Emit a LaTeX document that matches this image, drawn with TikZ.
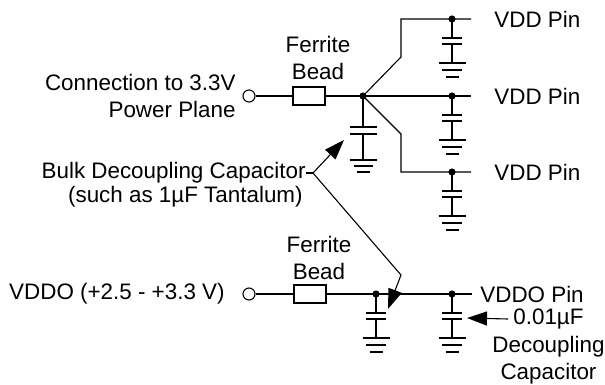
\documentclass[tikz,border=0pt]{standalone}
\usepackage{fontspec}
\setmainfont{Liberation Sans}
\usetikzlibrary{arrows.meta,positioning}

\tikzset{
  wire/.style={draw,line width=0.55pt},
  arr/.style={draw,line width=0.55pt,-{Triangle[length=10pt,width=7pt]}},
  bead/.style={draw,rectangle,line width=0.55pt,minimum width=16pt,minimum height=9pt,inner sep=0pt},
  dot/.style={circle,fill,inner sep=0pt,minimum size=3.6pt},
  term/.style={circle,draw,fill=white,line width=0.55pt,inner sep=0pt,minimum size=6pt},
  lbl/.style={font=\fontsize{11.2}{13.5}\selectfont,inner sep=0pt}
}

\begin{document}
\begin{tikzpicture}[x=0.5pt,y=-0.5pt]
\useasboundingbox (0,0) rectangle (605,385);

% 3.3V branch
\node[term] (in1) at (249,96) {};
\node[bead] (fb1) at (309,96) {};
\node[dot] (j1) at (363,96) {};
\coordinate (up) at (401,57);
\coordinate (upc) at (401,19);
\coordinate (dn) at (401,134);
\coordinate (dnc) at (401,172);
\node[dot] (p1) at (452,19) {};
\node[dot] (p2) at (452,96) {};
\node[dot] (p3) at (452,172) {};
\coordinate (e1) at (471,19);
\coordinate (e2) at (471,96);
\coordinate (e3) at (471,172);

\path[wire] (in1) -- (fb1) -- (j1.center) -- (e2);
\path[wire] (j1.center) -- (up) -- (upc) -- (e1);
\path[wire] (j1.center) -- (dn) -- (dnc) -- (e3);

\node[lbl,anchor=east,align=right] (conn) at (236,96) {Connection to 3.3V\\Power Plane};
\node[lbl,align=center] (fbl1) at (318,58) {Ferrite\\Bead};
\node[lbl,anchor=west] (vdd1) at (494,19) {VDD Pin};
\node[lbl,anchor=west] (vdd2) at (494,96) {VDD Pin};
\node[lbl,anchor=west] (vdd3) at (494,172) {VDD Pin};

% VDDO branch
\node[term] (in2) at (249,294) {};
\node[bead] (fb2) at (310,294) {};
\node[dot] (j2) at (376,294) {};
\node[dot] (p4) at (452,294) {};
\coordinate (e4) at (472,294);

\path[wire] (in2) -- (fb2) -- (j2.center) -- (e4);

\node[lbl,anchor=east] (vddoin) at (225,294) {VDDO (+2.5 - +3.3 V)};
\node[lbl,align=center] (fbl2) at (319,258) {Ferrite\\Bead};
\node[lbl,anchor=west] (vddo) at (480,294) {VDDO Pin};

% capacitors to ground
\foreach \p in {p1,p2,p3,p4,j2}
  \path[wire] (\p.center) -- ++(0,19) ++(-10,0) -- ++(20,0) ++(-20,6) -- ++(20,0)
    ++(-10,0) -- ++(0,19) ++(-13.5,0) -- ++(27,0) ++(-23.5,7) -- ++(20,0)
    ++(-16.5,7) -- ++(13,0);
\path[wire] (j1.center) -- ++(0,31) ++(-13.5,0) -- ++(27,0) ++(-27,7) -- ++(27,0)
  ++(-13.5,0) -- ++(0,26) ++(-13.5,0) -- ++(27,0) ++(-23,6) -- ++(19,0)
  ++(-16,6) -- ++(13,0);

% bulk capacitor callout
\node[lbl,anchor=east] (bulk) at (306,173) {Bulk Decoupling Capacitor};
\node[lbl,anchor=east] (bulk2) at (303,197) {(such as 1µF Tantalum)};
\coordinate (split) at (313,173);
\coordinate (tipA) at (344,140);
\coordinate (bend) at (401,275);
\coordinate (tipB) at (388,309);
\path[wire] (bulk.east) -- (split);
\path[arr] (split) -- (tipA);
\path[arr] (split) -- (bend) -- (tipB);

% decoupling capacitor callout
\node[lbl,anchor=west,inner sep=2.5pt] (cval) at (508,319) {0.01µF};
\node[lbl,align=center] (cdesc) at (548.5,360) {Decoupling\\Capacitor};
\coordinate (tipC) at (467,318);
\path[arr] (cval.west) -- (tipC);
\end{tikzpicture}
\end{document}
